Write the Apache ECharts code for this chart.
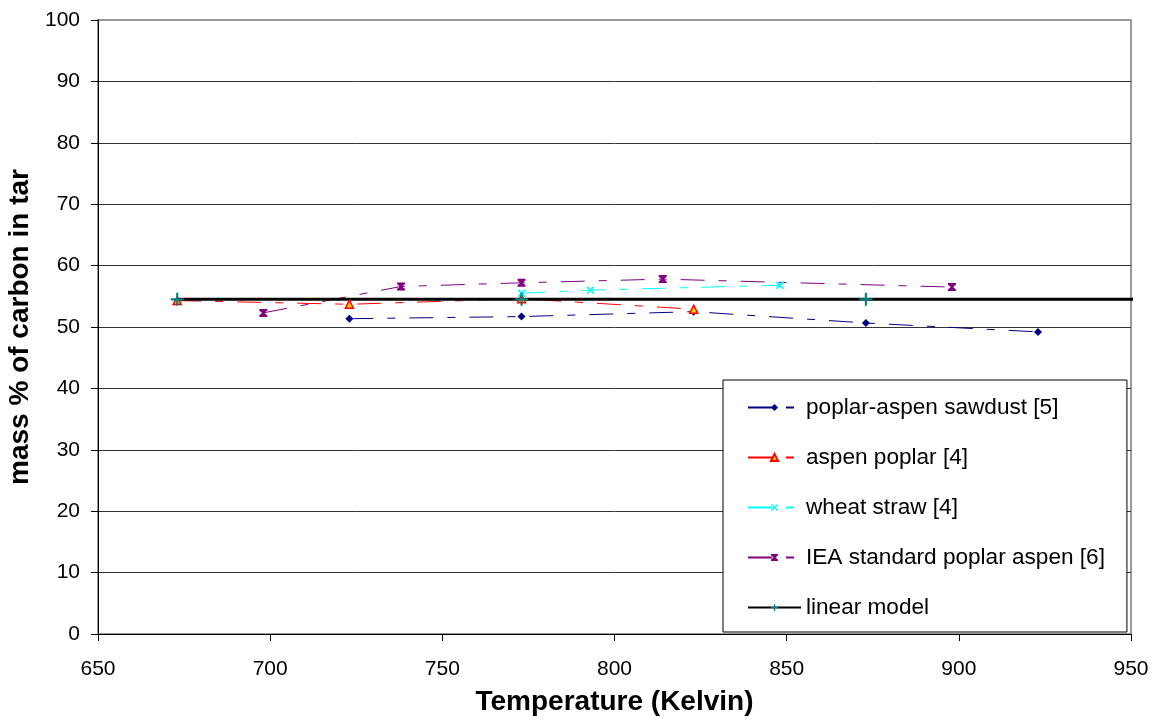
<!DOCTYPE html>
<html>
<head>
<meta charset="utf-8">
<script src="https://cdn.jsdelivr.net/npm/echarts@6/dist/echarts.min.js"></script>
<style>
html,body{margin:0;padding:0;background:#fff;}
#chart{width:1157px;height:720px;}
</style>
</head>
<body>
<div id="chart"></div>
<script>
// Data
const sawdustT = [723, 773, 823, 873, 923];
const sawdustC = [51.35, 51.7, 52.5, 50.65, 49.2];
const aspenT = [673, 723, 773, 823];
const aspenC = [54.3, 53.7, 54.6, 52.9];
const wheatT = [773, 793, 848];
const wheatC = [55.5, 56.0, 56.8];
const ieaT = [698, 738, 773, 814, 898];
const ieaC = [52.3, 56.6, 57.2, 57.8, 56.5];
const modelT = [673, 773, 873, 973];
const modelC = [54.5, 54.5, 54.5, 54.5];
const seriesNames = ['poplar-aspen sawdust [5]', 'aspen poplar [4]', 'wheat straw [4]', 'IEA standard poplar aspen [6]', 'linear model'];
const xTitle = 'Temperature (Kelvin)';
const yTitle = 'mass % of carbon in tar';

const pair = (xs, ys) => xs.map((x, i) => [x, ys[i]]);
const FONT = 'Liberation Sans';
const dash = [24, 14, 8, 14];

const xSym = 'path://M0,1.5 L1.5,0 L5,3.5 L8.5,0 L10,1.5 L6.5,5 L10,8.5 L8.5,10 L5,6.5 L1.5,10 L0,8.5 L3.5,5 Z';
const hourSym = 'path://M0,0 L10,0 L10,2 L6.5,5 L10,8 L10,10 L0,10 L0,8 L3.5,5 L0,2 Z';
const plusSym = 'path://M4.2,0 L5.8,0 L5.8,4.2 L10,4.2 L10,5.8 L5.8,5.8 L5.8,10 L4.2,10 L4.2,5.8 L0,5.8 L0,4.2 L4.2,4.2 Z';

const chart = echarts.init(document.getElementById('chart'));
chart.setOption({
  animation: false,
  backgroundColor: '#fff',
  textStyle: { fontFamily: FONT, color: '#000' },
  grid: {
    left: 98, right: 26, top: 20, bottom: 86,
    outerBoundsMode: 'none', containLabel: false,
    show: true, borderColor: '#999', borderWidth: 2, backgroundColor: 'transparent'
  },
  xAxis: {
    type: 'value', min: 650, max: 950, interval: 50,
    name: xTitle, nameLocation: 'middle', nameGap: 54,
    nameTextStyle: { fontFamily: FONT, fontSize: 28, fontWeight: 'bold', color: '#000' },
    axisLine: { show: true, onZero: false, lineStyle: { color: '#000', width: 1 } },
    axisTick: { show: true, length: 7, inside: false, lineStyle: { color: '#000' } },
    axisLabel: { fontFamily: FONT, fontSize: 21, color: '#000', margin: 25 },
    splitLine: { show: false }
  },
  yAxis: {
    type: 'value', min: 0, max: 100, interval: 10,
    name: yTitle, nameLocation: 'middle', nameGap: 51, nameRotate: 90,
    nameTextStyle: { fontFamily: FONT, fontSize: 28, fontWeight: 'bold', color: '#000' },
    axisLine: { show: true, onZero: false, lineStyle: { color: '#000', width: 1 } },
    axisTick: { show: true, length: 7, inside: false, lineStyle: { color: '#000' } },
    axisLabel: { fontFamily: FONT, fontSize: 21, color: '#000', margin: 18 },
    splitLine: { show: true, showMaxLine: false, showMinLine: false, lineStyle: { color: '#333', width: 1 } }
  },
  legend: {
    orient: 'vertical',
    left: 723, top: 380,
    padding: [16, 22, 13, 24],
    itemGap: 27,
    itemWidth: 53, itemHeight: 9,
    backgroundColor: '#fff',
    borderColor: '#000', borderWidth: 1,
    textStyle: { fontFamily: FONT, fontSize: 22.6, color: '#000' },
    data: seriesNames
  },
  series: [
    {
      name: seriesNames[0], type: 'line', data: pair(sawdustT, sawdustC),
      symbol: 'diamond', symbolSize: 8,
      itemStyle: { color: '#000080' },
      lineStyle: { color: '#000080', width: 1, type: dash }
    },
    {
      name: seriesNames[1], type: 'line', data: pair(aspenT, aspenC),
      symbol: 'triangle', symbolSize: 8,
      itemStyle: { color: '#FFCC00', borderColor: '#FF0000', borderWidth: 1.5 },
      lineStyle: { color: '#FF0000', width: 1, type: dash }
    },
    {
      name: seriesNames[2], type: 'line', data: pair(wheatT, wheatC),
      symbol: xSym, symbolSize: 8,
      itemStyle: { color: '#00FFFF' },
      lineStyle: { color: '#00FFFF', width: 1, type: dash }
    },
    {
      name: seriesNames[3], type: 'line', data: pair(ieaT, ieaC),
      symbol: hourSym, symbolSize: 8,
      itemStyle: { color: '#800080' },
      lineStyle: { color: '#800080', width: 1, type: dash }
    },
    {
      name: seriesNames[4], type: 'line', data: pair(modelT, modelC),
      symbol: plusSym, symbolSize: 13, clip: true,
      itemStyle: { color: '#008080' },
      lineStyle: { color: '#000', width: 3, type: 'solid' }
    }
  ]
});
</script>
</body>
</html>
